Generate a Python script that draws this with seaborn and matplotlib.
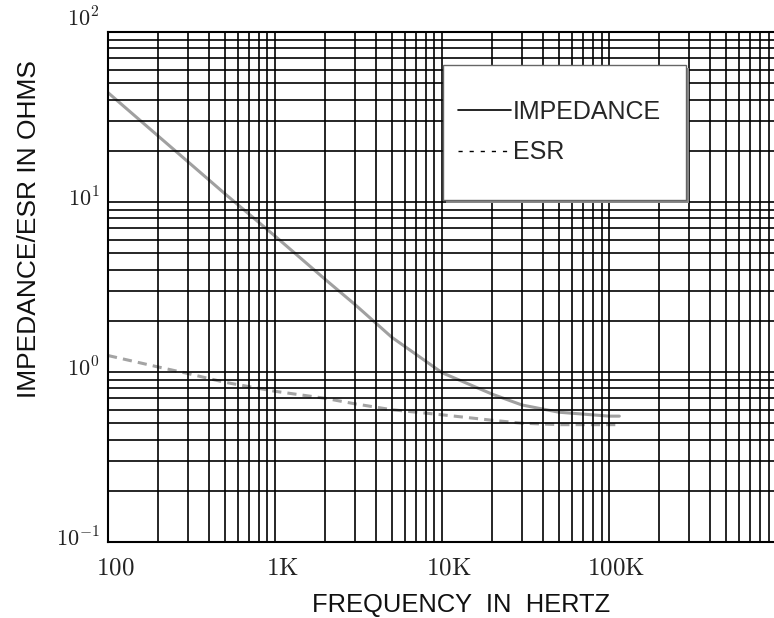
import numpy as np
import pandas as pd
import matplotlib
matplotlib.use("Agg")
import matplotlib.pyplot as plt
import seaborn as sns
from matplotlib.ticker import LogLocator, FixedLocator, NullFormatter
from matplotlib.lines import Line2D
from matplotlib.patches import Rectangle
import matplotlib.transforms as mtransforms

# ---- data ----
freq = [100, 200, 300, 500, 1000, 2000, 3000, 5000, 10000, 20000, 30000, 50000, 100000, 115000]
impedance = [44, 24.4, 17.3, 11.2, 6.3, 3.5, 2.5, 1.6, 0.99, 0.74, 0.64, 0.58, 0.55, 0.55]
esr = [1.25, 1.07, 0.98, 0.87, 0.77, 0.70, 0.65, 0.60, 0.56, 0.52, 0.50, 0.49, 0.49, 0.49]
series_names = ["IMPEDANCE", "ESR"]
x_ticks = [100, 1000, 10000, 100000]
x_tick_labels = [r"$\mathrm{100}$", r"$\mathrm{1K}$", r"$\mathrm{10K}$", r"$\mathrm{100K}$"]
y_ticks = [0.1, 1, 10, 100]
y_tick_labels = [r"$10^{-1}$", r"$10^{0}$", r"$10^{1}$", r"$10^{2}$"]
x_label = "FREQUENCY  IN  HERTZ"
y_label = "IMPEDANCE/ESR IN OHMS"

sns.set_theme(style="white")
plt.rcParams["font.family"] = ["Liberation Sans", "DejaVu Sans"]
plt.rcParams["mathtext.fontset"] = "cm"

fig = plt.figure(figsize=(7.74, 6.18), dpi=100)
ax = fig.add_axes([108 / 774, (618 - 542) / 618, (774 - 108) / 774, (542 - 32) / 618])
ax.set_xscale("log")
ax.set_yscale("log")

n = len(freq)
df = pd.DataFrame({
    "freq": freq * 2,
    "value": impedance + esr,
    "series": [series_names[0]] * n + [series_names[1]] * n,
})
sns.lineplot(data=df, x="freq", y="value", hue="series", style="series",
             palette={series_names[0]: "#a0a0a0", series_names[1]: "#a4a4a4"},
             dashes={series_names[0]: "", series_names[1]: (3, 2)},
             linewidth=2.2, ax=ax, legend=False, zorder=2)

ax.set_xlim(100, 9.7e5)
ax.set_ylim(0.1, 100)

ax.xaxis.set_major_locator(FixedLocator(x_ticks))
ax.yaxis.set_major_locator(FixedLocator(y_ticks))
ax.xaxis.set_minor_locator(LogLocator(base=10, subs=np.arange(2, 10), numticks=20))
ax.yaxis.set_minor_locator(LogLocator(base=10, subs=np.arange(2, 10), numticks=20))
ax.xaxis.set_minor_formatter(NullFormatter())
ax.yaxis.set_minor_formatter(NullFormatter())
ax.set_xticklabels(x_tick_labels)
ax.set_yticklabels(y_tick_labels)
ax.tick_params(axis="both", which="both", length=0)
ax.tick_params(axis="x", labelsize=18, pad=10, colors="#222222")
ax.tick_params(axis="y", labelsize=16, pad=6, colors="#222222")

# small offsets of the tick labels as in the scan
for lab in ax.get_xticklabels():
    lab.set_transform(lab.get_transform() + mtransforms.ScaledTranslation(7 / 100, 0, fig.dpi_scale_trans))
for lab, t in zip(ax.get_yticklabels(), y_ticks):
    dy = 15 if t == 100 else 5
    lab.set_transform(lab.get_transform() + mtransforms.ScaledTranslation(0, dy / 100, fig.dpi_scale_trans))

ax.grid(True, which="both", color="black", linewidth=1.4, alpha=0.85)
ax.set_axisbelow(False)

for side in ["left", "bottom", "top"]:
    ax.spines[side].set_color("black")
    ax.spines[side].set_linewidth(1.5)
ax.spines["right"].set_visible(False)

ax.set_xlabel(x_label, fontsize=18.4, color="#111111")
ax.set_ylabel(y_label, fontsize=19, color="#111111")
ax.xaxis.set_label_coords(0.53, -0.1)
ax.yaxis.set_label_coords(-0.1, 0.614)

# legend box
bx0, bx1 = (443 - 108) / 666, (686 - 108) / 666
by0, by1 = (542 - 200) / 510, (542 - 65) / 510
shadow = Rectangle((bx0 + 3 / 666, by0 - 3 / 510), bx1 - bx0, by1 - by0, transform=ax.transAxes,
                   facecolor="#888888", edgecolor="none", zorder=3.8)
box = Rectangle((bx0, by0), bx1 - bx0, by1 - by0, transform=ax.transAxes,
                facecolor="white", edgecolor="#666666", linewidth=1.0, zorder=4)
ax.add_patch(shadow)
ax.add_patch(box)

handles = [Line2D([], [], color="black", linewidth=1.2),
           Line2D([], [], color="black", linewidth=1.0, linestyle=(0, (3, 5)))]
leg = ax.legend(handles, series_names, loc="upper left",
                bbox_to_anchor=((458 - 108) / 666, (542 - 100) / 510),
                frameon=False, fontsize=18, borderpad=0, borderaxespad=0,
                handlelength=2.1, handletextpad=0.1, labelspacing=0.65)
leg.set_zorder(6)

fig.savefig("out.png", dpi=100, facecolor="white")
